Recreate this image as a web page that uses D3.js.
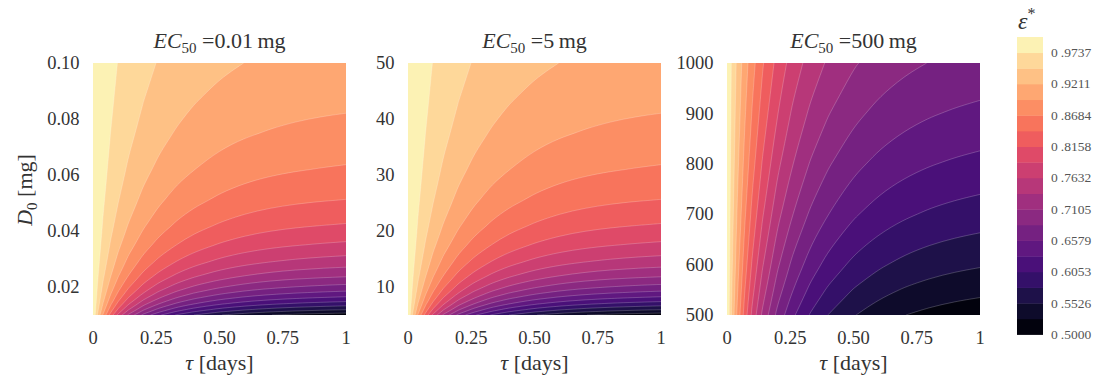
<!DOCTYPE html>
<html>
<head>
<meta charset="utf-8">
<script src="https://cdn.jsdelivr.net/npm/d3@7"></script>
<style>
  body { margin: 0; background: #fff; }
  svg { display: block; font-family: "Liberation Serif", "DejaVu Serif", serif; }
</style>
</head>
<body>
<svg id="chart" width="1109" height="381"></svg>
<script>
`use strict`;

// tau columns [days], shared by the three panels
const tauDays = [0, 0.02, 0.04, 0.07, 0.1, 0.14, 0.2, 0.26, 0.33, 0.4, 0.5, 0.6, 0.7, 0.8, 0.9, 1];

// D0 rows [mg], bottom to top
const doseLow = [0.01, 0.011, 0.012, 0.014, 0.016, 0.018, 0.02, 0.024, 0.029, 0.035, 0.042, 0.051, 0.062, 0.075, 0.087, 0.1];
const doseMid = [5, 5.5, 6, 7, 8, 9, 10, 12, 14.5, 17.5, 21, 25.5, 31, 37.5, 43.5, 50];
const doseHigh = [500, 550, 600, 700, 800, 900, 1000];

// eps*, one row per dose, one value per tau column
const epsLow = [
  [1, .9406, .8911, .8305, .7824, .7318, .6761, .6363, .6028, .5785, .5543, .5380, .5269, .5191, .5137, .5098],
  [1, .9457, .9000, .8435, .7981, .7501, .6967, .6581, .6254, .6016, .5777, .5616, .5506, .5429, .5374, .5336],
  [1, .9500, .9075, .8547, .8118, .7661, .7147, .6774, .6455, .6222, .5988, .5829, .5720, .5644, .5590, .5551],
  [1, .9569, .9197, .8728, .8342, .7926, .7451, .7101, .6800, .6577, .6352, .6199, .6093, .6018, .5966, .5928],
  [1, .9621, .9290, .8869, .8519, .8137, .7696, .7368, .7083, .6871, .6655, .6508, .6405, .6333, .6282, .6246],
  [1, .9661, .9364, .8982, .8661, .8309, .7898, .7590, .7320, .7119, .6912, .6771, .6672, .6602, .6553, .6518],
  [1, .9694, .9424, .9074, .8779, .8452, .8068, .7777, .7522, .7330, .7133, .6997, .6902, .6835, .6787, .6753],
  [1, .9744, .9515, .9217, .8961, .8675, .8336, .8077, .7846, .7671, .7491, .7365, .7277, .7215, .7171, .7139],
  [1, .9787, .9596, .9343, .9125, .8878, .8582, .8354, .8148, .7992, .7829, .7716, .7636, .7579, .7539, .7510],
  [1, .9823, .9663, .9449, .9264, .9052, .8796, .8596, .8416, .8277, .8132, .8030, .7958, .7907, .7871, .7845],
  [1, .9852, .9717, .9537, .9379, .9198, .8976, .8802, .8644, .8522, .8393, .8303, .8239, .8193, .8160, .8137],
  [1, .9878, .9766, .9615, .9483, .9330, .9141, .8992, .8856, .8750, .8638, .8559, .8503, .8463, .8434, .8414],
  [1, .9899, .9807, .9681, .9571, .9442, .9283, .9156, .9039, .8949, .8852, .8784, .8735, .8700, .8675, .8657],
  [1, .9917, .9840, .9735, .9642, .9534, .9400, .9292, .9192, .9115, .9032, .8973, .8931, .8901, .8879, .8864],
  [1, .9928, .9861, .9771, .9690, .9596, .9478, .9384, .9296, .9227, .9154, .9102, .9065, .9038, .9019, .9005],
  [1, .9937, .9879, .9800, .9729, .9647, .9543, .9459, .9382, .9321, .9256, .9209, .9176, .9152, .9135, .9123]
];

// second panel is the same map, only the dose axis is rescaled
const epsMid = epsLow;

const epsHigh = [
  [1, .9406, .8911, .8305, .7824, .7318, .6761, .6363, .6028, .5785, .5543, .5380, .5269, .5191, .5137, .5098],
  [1, .9457, .9000, .8435, .7981, .7501, .6967, .6581, .6254, .6016, .5777, .5616, .5506, .5429, .5374, .5336],
  [1, .9500, .9075, .8547, .8118, .7661, .7147, .6774, .6455, .6222, .5988, .5829, .5720, .5644, .5590, .5551],
  [1, .9569, .9197, .8728, .8342, .7926, .7451, .7101, .6800, .6577, .6352, .6199, .6093, .6018, .5966, .5928],
  [1, .9621, .9290, .8869, .8519, .8137, .7696, .7368, .7083, .6871, .6655, .6508, .6405, .6333, .6282, .6246],
  [1, .9661, .9364, .8982, .8661, .8309, .7898, .7590, .7320, .7119, .6912, .6771, .6672, .6602, .6553, .6518],
  [1, .9694, .9424, .9074, .8779, .8452, .8068, .7777, .7522, .7330, .7133, .6997, .6902, .6835, .6787, .6753]
];

const levels = [0.5, 0.5263, 0.5526, 0.5789, 0.6053, 0.6316, 0.6579, 0.6842, 0.7105, 0.7368,
  0.7632, 0.7895, 0.8158, 0.8421, 0.8684, 0.8947, 0.9211, 0.9474, 0.9737, 1];

const cbarTicks = [0.5, 0.5526, 0.6053, 0.6579, 0.7105, 0.7632, 0.8158, 0.8684, 0.9211, 0.9737];

const ec50 = [`0.01`, `5`, `500`];

const tauTicks = [0, 0.25, 0.5, 0.75, 1];
const tauLabels = [`0`, `0.25`, `0.50`, `0.75`, `1`];

const doseTicksLow = [0.02, 0.04, 0.06, 0.08, 0.1];
const doseLabelsLow = [`0.02`, `0.04`, `0.06`, `0.08`, `0.10`];
const doseTicksMid = [10, 20, 30, 40, 50];
const doseTicksHigh = [500, 600, 700, 800, 900, 1000];

/**/

const SVG = d3.select(`#chart`);

const Top = 63, Bottom = 315, W = 253;
const INK = `#333`;

const Panels = [
  {left: 93, ec: ec50[0], dose: doseLow, eps: epsLow, ticks: doseTicksLow, labels: doseLabelsLow},
  {left: 408, ec: ec50[1], dose: doseMid, eps: epsMid, ticks: doseTicksMid, labels: doseTicksMid.map(String)},
  {left: 727, ec: ec50[2], dose: doseHigh, eps: epsHigh, ticks: doseTicksHigh, labels: doseTicksHigh.map(String)}
];

const bandColor = i => d3.interpolateMagma((i + 0.5) / (levels.length - 1));

const smooth = d3.line().curve(d3.curveBasis);

// drop points that sit on top of the previous one
const thin = run => run.filter((p, j) => j === 0 || j === run.length - 1 ||
  Math.hypot(p[0] - run[j - 1][0], p[1] - run[j - 1][1]) > 0.8);

// smoothed run without its leading moveTo (pen is already on its first point)
const tail = run => smooth(thin(run)).replace(/^M[^LC]*/, ``);

Panels.forEach((P, k) => {

  let n = tauDays.length, m = P.dose.length;

  let x = d3.scaleLinear().domain([0, 1]).range([P.left, P.left + W]);
  let y = d3.scaleLinear().domain([P.dose[0], P.dose[m - 1]]).range([Bottom, Top]);

  // grid index -> data value, through the uneven sample spacing
  let col = d3.scaleLinear().domain(d3.range(n)).range(tauDays).clamp(true);
  let row = d3.scaleLinear().domain(d3.range(m)).range(P.dose).clamp(true);

  let ix = gx => Math.max(0, Math.min(n - 1, gx - 0.5));
  let iy = gy => Math.max(0, Math.min(m - 1, gy - 0.5));

  let onFrame = (a, b) => (a.g[0] === b.g[0] && (a.g[0] === 0 || a.g[0] === n - 1)) ||
    (a.g[1] === b.g[1] && (a.g[1] === 0 || a.g[1] === m - 1));

  let rings = geom => {
    let out = [];
    geom.coordinates.forEach(poly => poly.forEach(ring => {
      out.push(ring.map(p => ({g: [ix(p[0]), iy(p[1])], p: [x(col(ix(p[0]))), y(row(iy(p[1])))]})));
    }));
    return out;
  };

  // closed band outline: straight along the frame, smooth inside
  let bandPath = geom => {
    let s = ``;
    rings(geom).forEach(pts => {
      s += `M${pts[0].p}`;
      let run = [pts[0].p];
      for (let j = 1; j < pts.length; j++) {
        if (onFrame(pts[j - 1], pts[j])) {
          if (run.length > 1) s += tail(run);
          s += `L${pts[j].p}`;
          run = [pts[j].p];
        } else run.push(pts[j].p);
      }
      if (run.length > 1) s += tail(run);
      s += `Z`;
    });
    return s;
  };

  // isoline only: the same, but nothing drawn on the frame
  let isoPath = geom => {
    let s = ``;
    rings(geom).forEach(pts => {
      let run = [pts[0].p];
      for (let j = 1; j < pts.length; j++) {
        if (onFrame(pts[j - 1], pts[j])) {
          if (run.length > 1) s += smooth(thin(run));
          run = [pts[j].p];
        } else run.push(pts[j].p);
      }
      if (run.length > 1) s += smooth(thin(run));
    });
    return s;
  };

  let bands = d3.contours().size([n, m]).thresholds(levels.slice(0, -1))(P.eps.flat());

  let G = SVG.append(`g`).attr(`class`, `panel`);

  G.append(`clipPath`).attr(`id`, `clip${k}`)
    .append(`rect`).attr(`x`, P.left).attr(`y`, Top).attr(`width`, W).attr(`height`, Bottom - Top);

  let M = G.append(`g`).attr(`clip-path`, `url(#clip${k})`);

  M.selectAll(`path.band`).data(bands).enter().append(`path`)
    .attr(`class`, `band`)
    .attr(`d`, bandPath)
    .attr(`fill`, (d, i) => bandColor(i));

  M.selectAll(`path.iso`).data(bands.slice(1)).enter().append(`path`)
    .attr(`class`, `iso`)
    .attr(`d`, isoPath)
    .attr(`fill`, `none`)
    .attr(`stroke`, `#fff`)
    .attr(`stroke-opacity`, 0.3)
    .attr(`stroke-width`, 0.7);

  // axes text
  G.selectAll(`text.xt`).data(tauTicks).enter().append(`text`)
    .attr(`class`, `xt`)
    .attr(`x`, d => x(d))
    .attr(`y`, 343.5)
    .attr(`text-anchor`, `middle`)
    .attr(`font-size`, `18.5px`)
    .attr(`fill`, INK)
    .text((d, i) => tauLabels[i]);

  G.selectAll(`text.yt`).data(P.ticks).enter().append(`text`)
    .attr(`class`, `yt`)
    .attr(`x`, P.left - 13.5)
    .attr(`y`, d => y(d) + 6.2)
    .attr(`text-anchor`, `end`)
    .attr(`font-size`, `18.5px`)
    .attr(`fill`, INK)
    .text((d, i) => P.labels[i]);

  let T = G.append(`text`)
    .attr(`x`, P.left + W / 2)
    .attr(`y`, 48)
    .attr(`text-anchor`, `middle`)
    .attr(`font-size`, `22px`)
    .attr(`fill`, INK);

  T.append(`tspan`).attr(`font-style`, `italic`).text(`EC`);
  T.append(`tspan`).attr(`font-size`, `15px`).attr(`dy`, 5).text(`50`);
  T.append(`tspan`).attr(`dy`, -5).text(` =${P.ec}\u2009mg`);

  let X = G.append(`text`)
    .attr(`x`, P.left + W / 2)
    .attr(`y`, 370)
    .attr(`text-anchor`, `middle`)
    .attr(`font-size`, `22px`)
    .attr(`fill`, INK);

  X.append(`tspan`).attr(`font-style`, `italic`).text(`τ`);
  X.append(`tspan`).text(` [days]`);

  if (k === 0) {

    let Y = G.append(`text`)
      .attr(`transform`, `translate(32,190) rotate(-90)`)
      .attr(`text-anchor`, `middle`)
      .attr(`font-size`, `22px`)
      .attr(`fill`, INK);

    Y.append(`tspan`).attr(`font-style`, `italic`).text(`D`);
    Y.append(`tspan`).attr(`font-size`, `15px`).attr(`dy`, 5).text(`0`);
    Y.append(`tspan`).attr(`dy`, -5).text(` [mg]`);
  }
});

/* colour bar */

let cb = d3.scaleLinear().domain([levels[0], levels[levels.length - 1]]).range([334.5, 37]);

let CB = SVG.append(`g`).attr(`class`, `cbar`);

CB.selectAll(`rect`).data(levels.slice(0, -1)).enter().append(`rect`)
  .attr(`x`, 1017)
  .attr(`width`, 26)
  .attr(`y`, (d, i) => cb(levels[i + 1]))
  .attr(`height`, (d, i) => cb(d) - cb(levels[i + 1]) + 0.4)
  .attr(`fill`, (d, i) => bandColor(i));

let lab = CB.selectAll(`text.ct`).data(cbarTicks).enter().append(`text`)
  .attr(`class`, `ct`)
  .attr(`x`, 1051)
  .attr(`y`, d => cb(d) + 4.5)
  .attr(`font-size`, `13.5px`)
  .attr(`fill`, `#555`);

lab.append(`tspan`).text(`0`);
lab.append(`tspan`).attr(`dx`, 3).text(d => d3.format(`.4f`)(d).slice(1));

let E = SVG.append(`text`)
  .attr(`x`, 1018)
  .attr(`y`, 29)
  .attr(`font-size`, `24px`)
  .attr(`fill`, INK);

E.append(`tspan`).attr(`font-style`, `italic`).text(`ε`);
E.append(`tspan`).attr(`font-size`, `16px`).attr(`dy`, -10).text(`*`);
</script>
</body>
</html>
